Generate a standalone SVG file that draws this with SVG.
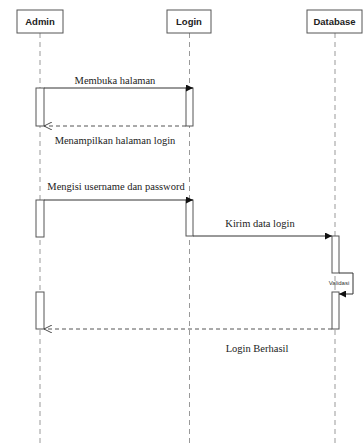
<svg xmlns="http://www.w3.org/2000/svg" width="363" height="443" viewBox="0 0 363 443">
<defs>
<style>
.box{fill:#fff;stroke:#555;stroke-width:1}
.hd{font-family:"Liberation Sans",Arial,sans-serif;font-weight:bold;font-size:9.5px;fill:#222;text-anchor:middle}
.life{stroke:#999;stroke-width:1;stroke-dasharray:5 4}
.act{fill:#fff;stroke:#555;stroke-width:1}
.msg{stroke:#333;stroke-width:1;fill:none}
.ret{stroke:#555;stroke-width:1;fill:none;stroke-dasharray:4 3}
.lbl{font-family:"Liberation Serif","Times New Roman",serif;font-size:10.5px;fill:#222;text-anchor:middle}
.sm{font-family:"Liberation Sans",Arial,sans-serif;font-size:6px;fill:#333;text-anchor:middle}
</style>
<marker id="fill" viewBox="0 0 10 10" refX="10" refY="5" markerWidth="7" markerHeight="7" orient="auto" markerUnits="userSpaceOnUse"><path d="M0,0 L10,5 L0,10 z" fill="#111"/></marker>
<marker id="open" viewBox="0 0 10 10" refX="10" refY="5" markerWidth="8" markerHeight="8" orient="auto" markerUnits="userSpaceOnUse"><path d="M0,0 L10,5 L0,10" fill="none" stroke="#444" stroke-width="1.2"/></marker>
</defs>
<rect width="363" height="443" fill="#fff"/>
<g id="lifelines">
<line class="life" x1="40" y1="33" x2="40" y2="443"/>
<line class="life" x1="189.5" y1="33" x2="189.5" y2="443"/>
<line class="life" x1="335" y1="33" x2="335" y2="443"/>
</g>
<g id="admin"><rect class="box" x="17" y="10" width="46" height="23"/><text class="hd" x="40" y="25">Admin</text></g>
<g id="login"><rect class="box" x="167" y="10" width="44" height="23"/><text class="hd" x="189" y="25">Login</text></g>
<g id="database"><rect class="box" x="307" y="10" width="55" height="23"/><text class="hd" x="334.5" y="25">Database</text></g>
<g id="activations">
<rect class="act" x="36" y="88" width="8" height="38"/>
<rect class="act" x="186" y="88" width="7" height="38"/>
<rect class="act" x="36" y="200" width="8" height="37"/>
<rect class="act" x="186" y="200" width="7" height="36"/>
<rect class="act" x="332" y="236" width="7" height="37"/>
<rect class="act" x="332" y="292" width="7" height="37"/>
<rect class="act" x="36" y="292" width="8" height="37"/>
</g>
<g id="connectors">
<line class="msg" x1="44" y1="88" x2="193" y2="88" marker-end="url(#fill)"/>
<line class="ret" x1="186" y1="126" x2="44" y2="126" marker-end="url(#open)"/>
<line class="msg" x1="44" y1="200" x2="193" y2="200" marker-end="url(#fill)"/>
<line class="msg" x1="193" y1="236" x2="332" y2="236" marker-end="url(#fill)"/>
<polyline class="msg" points="339,273 353,273 353,294 339,294" marker-end="url(#fill)"/>
<line class="ret" x1="332" y1="329" x2="44" y2="329" marker-end="url(#open)"/>
</g>
<g id="labels">
<text class="lbl" x="115" y="84">Membuka halaman</text>
<text class="lbl" x="115" y="144">Menampilkan halaman login</text>
<text class="lbl" x="116" y="190">Mengisi username dan password</text>
<text class="lbl" x="260" y="227">Kirim data login</text>
<text class="sm" x="339" y="285">Validasi</text>
<text class="lbl" x="257" y="352">Login Berhasil</text>
</g>
</svg>
